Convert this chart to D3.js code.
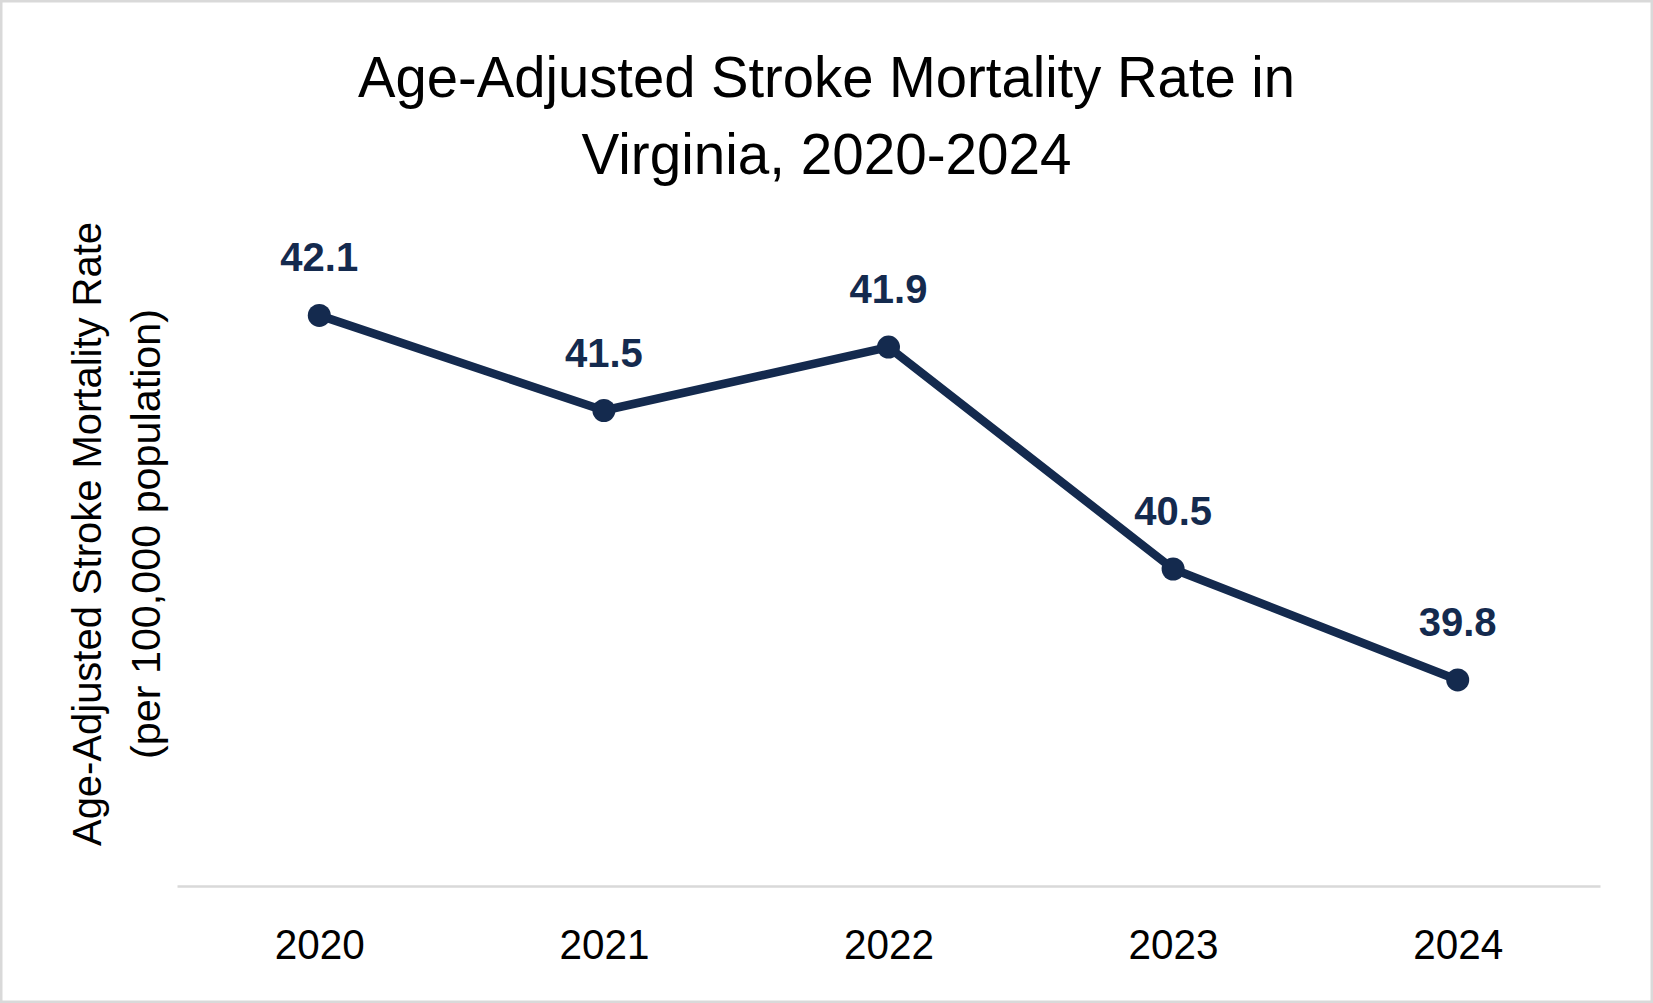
<!DOCTYPE html>
<html>
<head>
<meta charset="utf-8">
<script src="https://cdn.jsdelivr.net/npm/d3@7"></script>
<style>
  html, body { margin: 0; padding: 0; background: #ffffff; }
  svg { display: block; }
</style>
</head>
<body>
<svg id="chart" width="1653" height="1003"></svg>
<script>
const years = ["2020", "2021", "2022", "2023", "2024"];
const rates = [42.1, 41.5, 41.9, 40.5, 39.8];
const rateLabels = ["42.1", "41.5", "41.9", "40.5", "39.8"];
const titleLines = ["Age-Adjusted Stroke Mortality Rate in", "Virginia, 2020-2024"];
const yTitleLines = ["Age-Adjusted Stroke Mortality Rate", "(per 100,000 population)"];
const yDomain = [38.5, 42.5];

const W = 1653, H = 1003;
const navy = "#142a4e";
const svg = d3.select("#chart");

svg.append("rect")
  .attr("x", 1.25).attr("y", 1.25)
  .attr("width", W - 2.5).attr("height", H - 2.5)
  .attr("fill", "#ffffff")
  .attr("stroke", "#d9d9d9").attr("stroke-width", 2.5);

const plot = { left: 177, right: 1600, top: 252, bottom: 886 };

const x = d3.scalePoint().domain(years).range([plot.left, plot.right]).padding(0.5);
const y = d3.scaleLinear().domain(yDomain).range([plot.bottom, plot.top]);

// Title
const titleFont = "'Liberation Sans', Arial, sans-serif";
const titleWidths = [937, 490];
const titleBaselines = [97, 174];
svg.selectAll("text.title").data(titleLines).join("text")
  .attr("class", "title")
  .attr("x", 826.5)
  .attr("y", (d, i) => titleBaselines[i])
  .attr("text-anchor", "middle")
  .attr("font-family", titleFont)
  .attr("font-size", 58)
  .attr("fill", "#000000")
  .attr("textLength", (d, i) => titleWidths[i])
  .attr("lengthAdjust", "spacingAndGlyphs")
  .text(d => d);

// Y axis title (rotated)
const yTitleWidths = [624, 450];
const yTitleBaselines = [101, 160];
svg.selectAll("text.ytitle").data(yTitleLines).join("text")
  .attr("class", "ytitle")
  .attr("transform", (d, i) => `translate(${yTitleBaselines[i]},534) rotate(-90)`)
  .attr("text-anchor", "middle")
  .attr("font-family", titleFont)
  .attr("font-size", 41)
  .attr("fill", "#000000")
  .attr("textLength", (d, i) => yTitleWidths[i])
  .attr("lengthAdjust", "spacingAndGlyphs")
  .text(d => d);

// X axis
const xAxis = svg.append("g")
  .attr("transform", `translate(0,${plot.bottom})`)
  .call(d3.axisBottom(x).tickSize(0).tickSizeOuter(0));
xAxis.select(".domain")
  .attr("stroke", "#d9d9d9").attr("stroke-width", 2.5);
xAxis.selectAll(".tick text")
  .attr("y", 73).attr("dy", 0)
  .attr("font-family", titleFont)
  .attr("font-size", 43)
  .attr("fill", "#000000")
  .attr("textLength", 90)
  .attr("lengthAdjust", "spacingAndGlyphs");

// Line
const line = d3.line()
  .x((d, i) => x(years[i]))
  .y(d => y(d));
svg.append("path")
  .datum(rates)
  .attr("d", line)
  .attr("fill", "none")
  .attr("stroke", navy)
  .attr("stroke-width", 8.5)
  .attr("stroke-linejoin", "round");

// Markers
svg.selectAll("circle.pt").data(rates).join("circle")
  .attr("class", "pt")
  .attr("cx", (d, i) => x(years[i]))
  .attr("cy", d => y(d))
  .attr("r", 11.5)
  .attr("fill", navy);

// Data labels
svg.selectAll("text.lbl").data(rates).join("text")
  .attr("class", "lbl")
  .attr("x", (d, i) => x(years[i]))
  .attr("y", d => y(d) - 44)
  .attr("text-anchor", "middle")
  .attr("font-family", titleFont)
  .attr("font-weight", "bold")
  .attr("font-size", 40)
  .attr("fill", navy)
  .text((d, i) => rateLabels[i]);
</script>
</body>
</html>
